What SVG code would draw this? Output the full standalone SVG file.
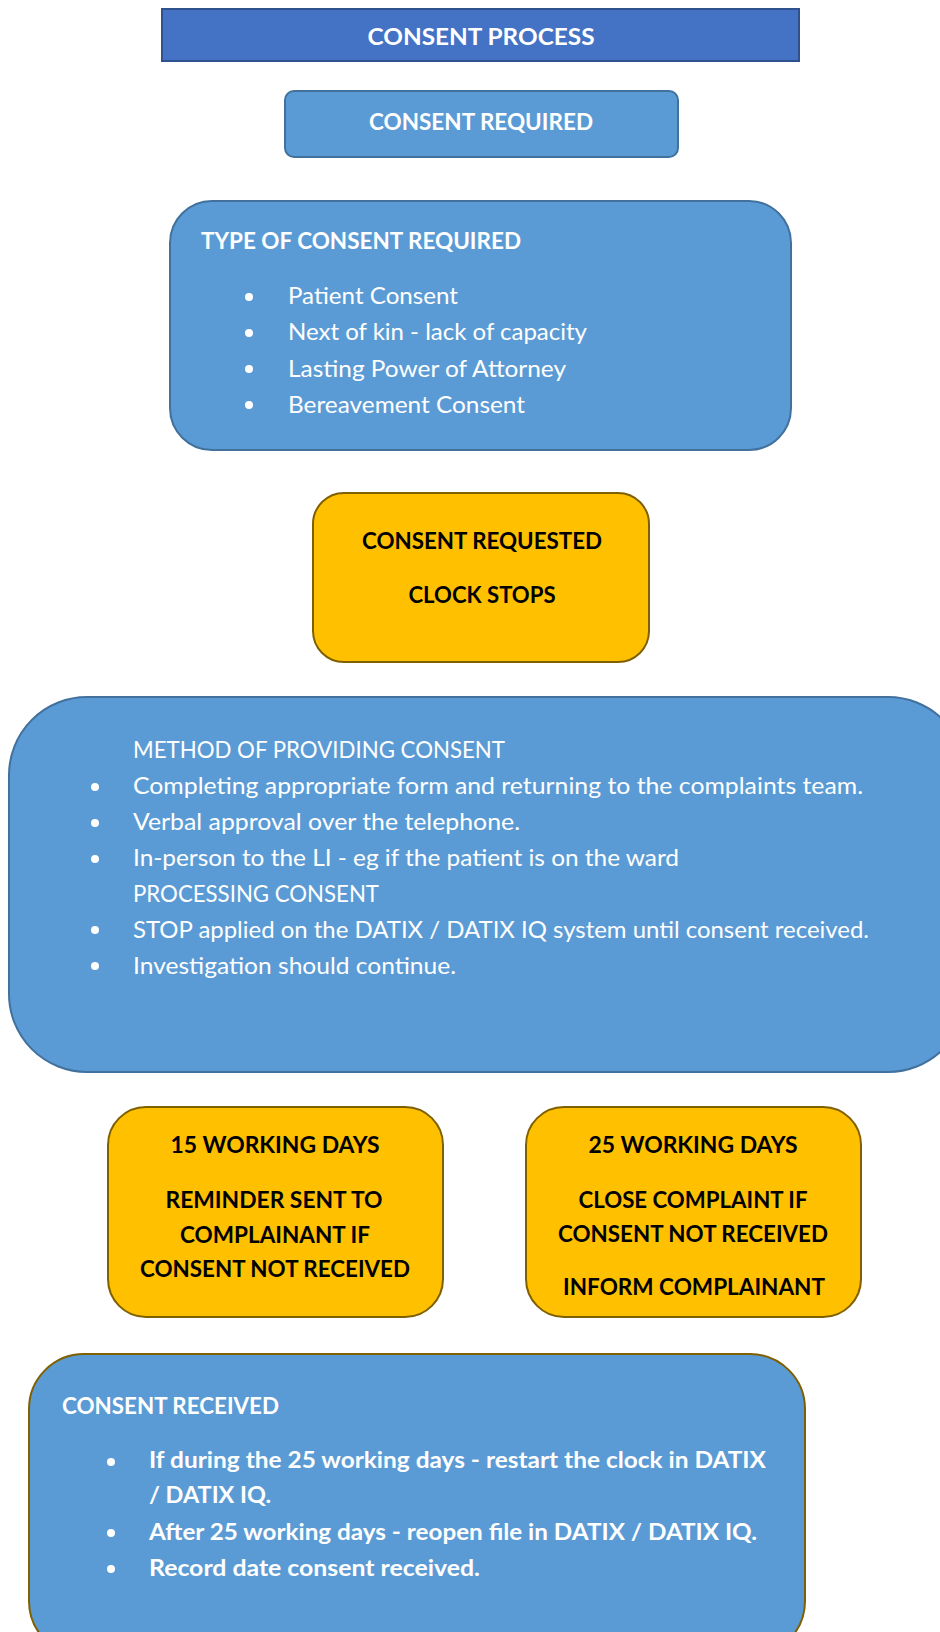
<svg xmlns="http://www.w3.org/2000/svg" width="940" height="1632" viewBox="0 0 940 1632">
  <style>
    text { font-family: Lato, "Liberation Sans", "DejaVu Sans", sans-serif; font-size: 23px; }
    .w { fill: #ffffff; }
    .k { fill: #000000; }
    .b { font-weight: bold; }
    .c { text-anchor: middle; }
    .title { fill: #4472C4; stroke: #2F528F; stroke-width: 2; }
    .blue { fill: #5B9BD5; stroke: #41719C; stroke-width: 2; }
    .gold { fill: #FFC000; stroke: #7F6000; stroke-width: 2; }
    .blue-gold { fill: #5B9BD5; stroke: #7F6000; stroke-width: 2; }
    .dot { fill: #ffffff; }
  </style>
  <rect width="940" height="1632" fill="#ffffff"/>

  <!-- Heading banner -->
  <g id="consent-process">
    <rect class="title" x="162" y="9" width="637" height="52"/>
    <text class="w b c" x="481" y="45" textLength="227" lengthAdjust="spacingAndGlyphs">CONSENT PROCESS</text>
  </g>

  <!-- Entry point -->
  <g id="consent-required">
    <rect class="blue" x="285" y="91" width="393" height="66" rx="9"/>
    <text class="w b c" x="481" y="130" textLength="224" lengthAdjust="spacingAndGlyphs">CONSENT REQUIRED</text>
  </g>

  <!-- Types of consent -->
  <g id="type-of-consent">
    <rect class="blue" x="170" y="201" width="621" height="249" rx="42"/>
    <text class="w b" x="201" y="249" textLength="320" lengthAdjust="spacingAndGlyphs">TYPE OF CONSENT REQUIRED</text>
    <circle class="dot" cx="249" cy="297" r="4"/>
    <text class="w" x="288" y="304" textLength="170" lengthAdjust="spacingAndGlyphs">Patient Consent</text>
    <circle class="dot" cx="249" cy="333" r="4"/>
    <text class="w" x="288" y="340" textLength="299" lengthAdjust="spacingAndGlyphs">Next of kin - lack of capacity</text>
    <circle class="dot" cx="249" cy="369" r="4"/>
    <text class="w" x="288" y="376.5" textLength="278" lengthAdjust="spacingAndGlyphs">Lasting Power of Attorney</text>
    <circle class="dot" cx="249" cy="405" r="4"/>
    <text class="w" x="288" y="412.5" textLength="237" lengthAdjust="spacingAndGlyphs">Bereavement Consent</text>
  </g>

  <!-- Request issued -->
  <g id="consent-requested">
    <rect class="gold" x="313" y="493" width="336" height="169" rx="31"/>
    <text class="k b c" x="482" y="549" textLength="240" lengthAdjust="spacingAndGlyphs">CONSENT REQUESTED</text>
    <text class="k b c" x="482" y="603" textLength="147" lengthAdjust="spacingAndGlyphs">CLOCK STOPS</text>
  </g>

  <!-- Methods and processing -->
  <g id="method-of-providing-consent">
    <rect class="blue" x="9" y="697" width="957" height="375" rx="78"/>
    <text class="w" x="133" y="758" textLength="372" lengthAdjust="spacingAndGlyphs">METHOD OF PROVIDING CONSENT</text>
    <circle class="dot" cx="95" cy="787" r="4"/>
    <text class="w" x="133" y="794" textLength="730" lengthAdjust="spacingAndGlyphs">Completing appropriate form and returning to the complaints team.</text>
    <circle class="dot" cx="95" cy="823" r="4"/>
    <text class="w" x="133" y="830" textLength="387" lengthAdjust="spacingAndGlyphs">Verbal approval over the telephone.</text>
    <circle class="dot" cx="95" cy="859" r="4"/>
    <text class="w" x="133" y="866" textLength="546" lengthAdjust="spacingAndGlyphs">In-person to the LI - eg if the patient is on the ward</text>
    <text class="w" x="133" y="902" textLength="246" lengthAdjust="spacingAndGlyphs">PROCESSING CONSENT</text>
    <circle class="dot" cx="95" cy="930" r="4"/>
    <text class="w" x="133" y="938" textLength="736" lengthAdjust="spacingAndGlyphs">STOP applied on the DATIX / DATIX IQ system until consent received.</text>
    <circle class="dot" cx="95" cy="966" r="4"/>
    <text class="w" x="133" y="974" textLength="323" lengthAdjust="spacingAndGlyphs">Investigation should continue.</text>
  </g>

  <!-- Reminder stage -->
  <g id="fifteen-working-days">
    <rect class="gold" x="108" y="1107" width="335" height="210" rx="38"/>
    <text class="k b c" x="275" y="1153" textLength="209" lengthAdjust="spacingAndGlyphs">15 WORKING DAYS</text>
    <text class="k b c" x="274" y="1207.5" textLength="217" lengthAdjust="spacingAndGlyphs">REMINDER SENT TO</text>
    <text class="k b c" x="275" y="1243" textLength="190" lengthAdjust="spacingAndGlyphs">COMPLAINANT IF</text>
    <text class="k b c" x="275" y="1276.5" textLength="270" lengthAdjust="spacingAndGlyphs">CONSENT NOT RECEIVED</text>
  </g>

  <!-- Closure stage -->
  <g id="twenty-five-working-days">
    <rect class="gold" x="526" y="1107" width="335" height="210" rx="38"/>
    <text class="k b c" x="693" y="1153" textLength="209" lengthAdjust="spacingAndGlyphs">25 WORKING DAYS</text>
    <text class="k b c" x="693" y="1207.5" textLength="229" lengthAdjust="spacingAndGlyphs">CLOSE COMPLAINT IF</text>
    <text class="k b c" x="693" y="1241.5" textLength="270" lengthAdjust="spacingAndGlyphs">CONSENT NOT RECEIVED</text>
    <text class="k b c" x="694" y="1295" textLength="262" lengthAdjust="spacingAndGlyphs">INFORM COMPLAINANT</text>
  </g>

  <!-- Consent arrives -->
  <g id="consent-received">
    <rect class="blue-gold" x="29" y="1354" width="776" height="302" rx="55"/>
    <text class="w b" x="62" y="1414" textLength="217" lengthAdjust="spacingAndGlyphs">CONSENT RECEIVED</text>
    <circle class="dot" cx="111" cy="1462" r="4"/>
    <text class="w b" x="149" y="1468" textLength="617" lengthAdjust="spacingAndGlyphs">If during the 25 working days - restart the clock in DATIX</text>
    <text class="w b" x="149" y="1503" textLength="122" lengthAdjust="spacingAndGlyphs">/ DATIX IQ.</text>
    <circle class="dot" cx="111" cy="1533" r="4"/>
    <text class="w b" x="149" y="1540" textLength="608" lengthAdjust="spacingAndGlyphs">After 25 working days - reopen file in DATIX / DATIX IQ.</text>
    <circle class="dot" cx="111" cy="1569" r="4"/>
    <text class="w b" x="149" y="1576" textLength="331" lengthAdjust="spacingAndGlyphs">Record date consent received.</text>
  </g>
</svg>
